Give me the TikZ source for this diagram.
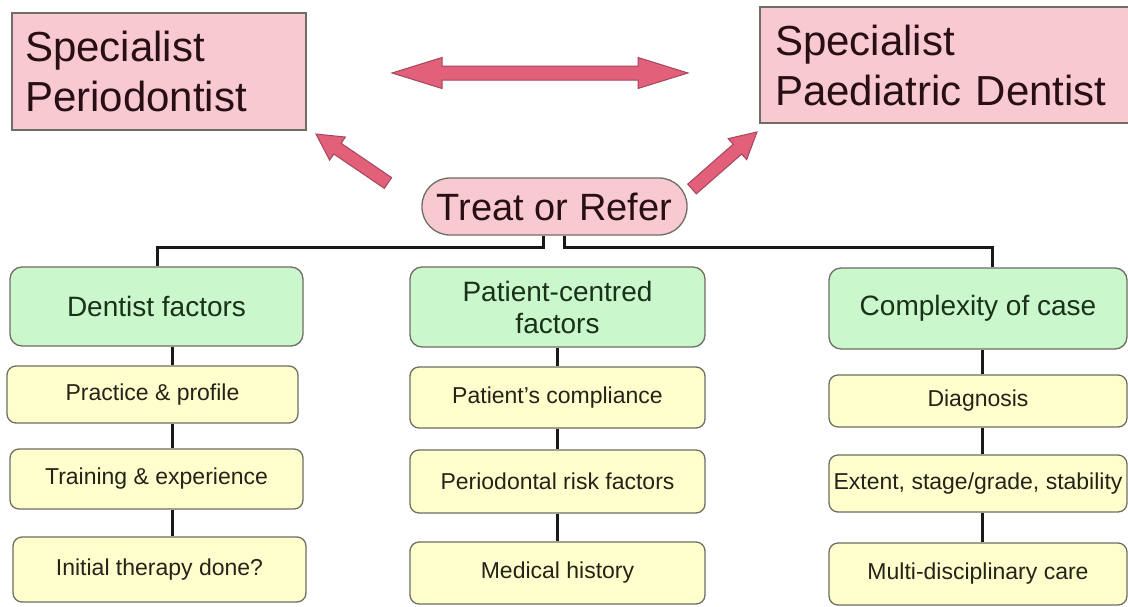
\documentclass[tikz,border=0pt]{standalone}
\usepackage{fontspec}
\setmainfont{Liberation Sans}
\usetikzlibrary{calc}
\definecolor{pinkbox}{RGB}{249,201,209}
\definecolor{arrowfill}{RGB}{226,96,122}
\definecolor{arrowline}{RGB}{165,70,92}
\definecolor{greenbox}{RGB}{202,247,204}
\definecolor{yellowbox}{RGB}{255,255,206}
\definecolor{boxline}{RGB}{110,110,100}
\definecolor{pinktext}{RGB}{40,15,20}
\definecolor{greentext}{RGB}{25,50,25}
\definecolor{yellowtext}{RGB}{35,35,25}
\tikzset{
 spec/.style={draw=boxline, line width=1.3pt, fill=pinkbox, inner sep=0pt,
   font=\fontsize{42}{50}\selectfont, text=pinktext, align=left},
 factor/.style={draw=boxline, line width=1.3pt, fill=greenbox, rounded corners=12pt,
   inner sep=0pt, font=\fontsize{28}{32}\selectfont, align=center, text=greentext},
 item/.style={draw=boxline, line width=1.3pt, fill=yellowbox, rounded corners=9pt,
   inner sep=0pt, font=\fontsize{23}{27}\selectfont, text=yellowtext},
 link/.style={line width=3pt, draw=black!90},
 blockarrow/.style={fill=arrowfill, draw=arrowline, line width=1pt, line join=miter},
}
\newcommand{\blockarr}[5]{%
 \path coordinate (ba-h) at ($(#2)!#5!(#1)$);
 \draw[blockarrow] ($(#1)!#3!90:(#2)$) -- ($(ba-h)!#3!90:(#2)$) -- ($(ba-h)!#4!90:(#2)$)
   -- (#2) -- ($(ba-h)!#4!-90:(#2)$) -- ($(ba-h)!#3!-90:(#2)$) -- ($(#1)!#3!-90:(#2)$) -- cycle;
}
\begin{document}
\begin{tikzpicture}[x=1pt,y=-1pt]
\useasboundingbox (0,0) rectangle (1128,606);
\fill[white] (0,0) rectangle (1128,606);

% top boxes
\node[spec, minimum width=294pt, minimum height=117pt, text width=268pt] (peri) at (159,71.5) {Specialist\\Periodontist};
\node[spec, minimum width=370pt, minimum height=116pt, text width=340pt] (paed) at (945,65) {Specialist\\Paediatric Dentist};

% treat or refer
\node[draw=boxline, line width=1.3pt, fill=pinkbox, rounded corners=28pt, minimum width=265pt, minimum height=57pt,
  inner sep=0pt, font=\fontsize{38}{44}\selectfont, text=pinktext] (treat) at (554.5,206.5) {Treat or Refer};

% block arrows
\coordinate (dl) at (392,73);
\coordinate (dr) at (688,73);
\coordinate (h1) at ($(dl)!50pt!(dr)$);
\coordinate (h2) at ($(dr)!50pt!(dl)$);
\draw[blockarrow] (dl) -- ($(h1)!15.5pt!90:(dr)$) -- ($(h1)!7pt!90:(dr)$) -- ($(h2)!7pt!-90:(dl)$)
  -- ($(h2)!15.5pt!-90:(dl)$) -- (dr) -- ($(h2)!15.5pt!90:(dl)$) -- ($(h2)!7pt!90:(dl)$)
  -- ($(h1)!7pt!-90:(dr)$) -- ($(h1)!15.5pt!-90:(dr)$) -- cycle;

\coordinate (lt) at (388,183);
\coordinate (lp) at (316,134);
\blockarr{lt}{lp}{6.5pt}{14pt}{26pt}
\coordinate (rt) at (692,189);
\coordinate (rp) at (757,132);
\blockarr{rt}{rp}{6.5pt}{14pt}{26pt}

% factor boxes
\node[factor, minimum width=293pt, minimum height=79pt] (dent) at (156.5,306.5) {Dentist factors};
\node[factor, minimum width=295pt, minimum height=80pt] (pat) at (557.5,307) {Patient-centred\\factors};
\node[factor, minimum width=298pt, minimum height=81pt] (comp) at (978,308.5) {Complexity of case};

% items
\node[item, minimum width=291pt, minimum height=57pt] (prac) at (152.5,394.5) {Practice \& profile};
\node[item, minimum width=293pt, minimum height=60pt] (train) at (156.5,479) {Training \& experience};
\node[item, minimum width=293pt, minimum height=65pt] (init) at (159.5,569.5) {Initial therapy done?};

\node[item, minimum width=295pt, minimum height=61pt] (compl) at (557.5,397.5) {Patient’s compliance};
\node[item, minimum width=295pt, minimum height=63pt] (risk) at (557.5,481.5) {Periodontal risk factors};
\node[item, minimum width=295pt, minimum height=62pt] (med) at (557.5,573) {Medical history};

\node[item, minimum width=298pt, minimum height=52pt] (diag) at (978,401) {Diagnosis};
\node[item, minimum width=298pt, minimum height=57pt] (ext) at (978,483.5) {Extent, stage/grade, stability};
\node[item, minimum width=298pt, minimum height=62pt] (multi) at (978,574) {Multi-disciplinary care};

% connectors from treat
\coordinate (tl) at (543,247);
\coordinate (tr) at (564,247);
\coordinate (cl) at (157,247);
\coordinate (cr) at (992,247);
\draw[link] (treat.south -| tl) -- (tl) -- (cl) -- (dent.north -| cl);
\draw[link] (treat.south -| tr) -- (tr) -- (cr) -- (comp.north -| cr);

% column connectors
\coordinate (c1) at (172,0);
\coordinate (c2) at (557,0);
\coordinate (c3) at (982,0);
\draw[link] (dent.south -| c1) -- (prac.north -| c1);
\draw[link] (prac.south -| c1) -- (train.north -| c1);
\draw[link] (train.south -| c1) -- (init.north -| c1);
\draw[link] (pat.south -| c2) -- (compl.north -| c2);
\draw[link] (compl.south -| c2) -- (risk.north -| c2);
\draw[link] (risk.south -| c2) -- (med.north -| c2);
\draw[link] (comp.south -| c3) -- (diag.north -| c3);
\draw[link] (diag.south -| c3) -- (ext.north -| c3);
\draw[link] (ext.south -| c3) -- (multi.north -| c3);
\end{tikzpicture}
\end{document}
